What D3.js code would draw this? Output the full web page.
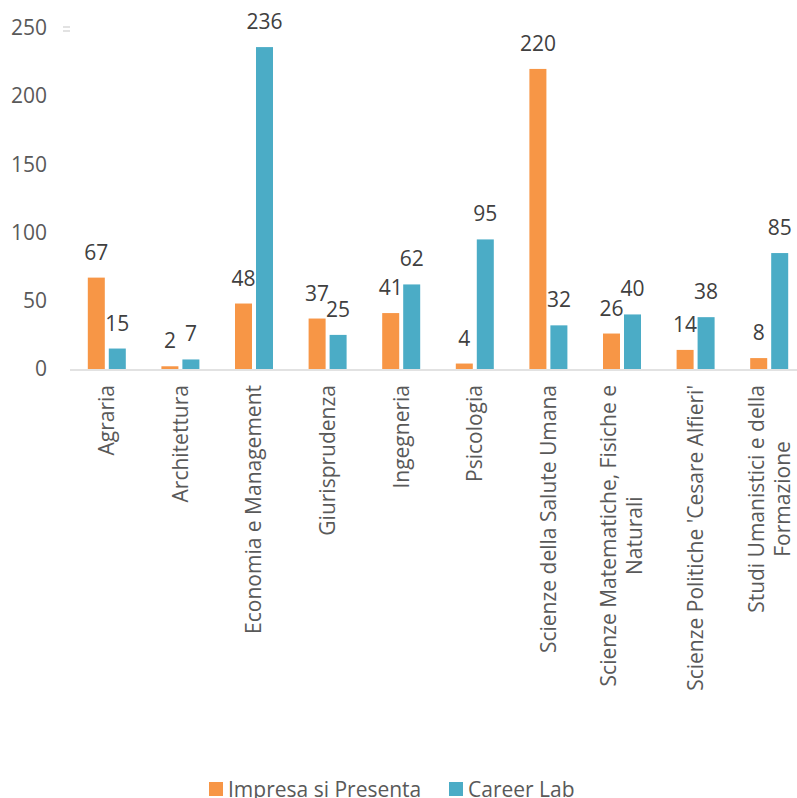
<!DOCTYPE html>
<html>
<head>
<meta charset="utf-8">
<script src="https://cdn.jsdelivr.net/npm/d3@7"></script>
<style>
  body { margin: 0; background: #fff; }
  svg { display: block; font-family: "Open Sans", sans-serif; }
</style>
</head>
<body>
<div id="chart"></div>
<script>
const width = 797;
const height = 798;

const categories = [
  "Agraria",
  "Architettura",
  "Economia e Management",
  "Giurisprudenza",
  "Ingegneria",
  "Psicologia",
  "Scienze della Salute Umana",
  "Scienze Matematiche, Fisiche e|Naturali",
  "Scienze Politiche 'Cesare Alfieri'",
  "Studi Umanistici e della|Formazione"
];
const seriesNames = ["Impresa si Presenta", "Career Lab"];
const impresa = [67, 2, 48, 37, 41, 4, 220, 26, 14, 8];
const careerLab = [15, 7, 236, 25, 62, 95, 32, 40, 38, 85];
const yTicks = [0, 50, 100, 150, 200, 250];

const colors = ["#F79646", "#4BACC6"];

const data = categories.map((c, i) => ({cat: c, values: [impresa[i], careerLab[i]]}));

const x = d3.scaleBand()
  .domain(categories)
  .range([70, 806]);

const x1 = d3.scaleBand()
  .domain([0, 1])
  .range([-19, 19])
  .paddingInner(0.19);

const y = d3.scaleLinear()
  .domain([0, 250])
  .range([369, 28]);

const svg = d3.select("#chart")
  .append("svg")
  .attr("width", width)
  .attr("height", height)
  .attr("viewBox", [0, 0, width, height]);

// y labels (no axis line, no gridlines)
svg.append("g")
  .attr("transform", "translate(47,0)")
  .call(d3.axisLeft(y).tickValues(yTicks).tickSize(0).tickPadding(0))
  .call(g => g.select(".domain").remove())
  .call(g => g.selectAll("text")
    .attr("font-family", "Open Sans, sans-serif")
    .attr("font-size", 21)
    .attr("fill", "#595959"));

// small marker near top
svg.append("g")
  .selectAll("line")
  .data([27, 31])
  .join("line")
  .attr("x1", 63).attr("x2", 70)
  .attr("y1", d => d).attr("y2", d => d)
  .attr("stroke", "#D9D9D9")
  .attr("stroke-width", 1.5);

// bars
const groups = svg.append("g")
  .selectAll("g")
  .data(data)
  .join("g")
  .attr("transform", d => `translate(${x(d.cat) + x.bandwidth() / 2},0)`);

groups.selectAll("rect")
  .data(d => d.values)
  .join("rect")
  .attr("x", (v, i) => x1(i))
  .attr("width", x1.bandwidth())
  .attr("y", v => y(v))
  .attr("height", v => y(0) - y(v))
  .attr("fill", (v, i) => colors[i]);

groups.selectAll("text")
  .data(d => d.values)
  .join("text")
  .attr("x", (v, i) => x1(i) + x1.bandwidth() / 2)
  .attr("y", v => y(v) - 18)
  .attr("text-anchor", "middle")
  .attr("font-size", 21)
  .attr("fill", "#404040")
  .text(v => v);

// x axis line
svg.append("line")
  .attr("x1", 70).attr("x2", width)
  .attr("y1", y(0) + 1).attr("y2", y(0) + 1)
  .attr("stroke", "#D9D9D9")
  .attr("stroke-width", 1.5);

// x labels, rotated
const xl = svg.append("g")
  .selectAll("g")
  .data(categories)
  .join("g")
  .attr("transform", d => `translate(${x(d) + x.bandwidth() / 2},385) rotate(-90)`);

xl.each(function(d) {
  const g = d3.select(this);
  const lines = d.split("|");
  const lh = 26;
  const texts = lines.map((ln, i) => g.append("text")
    .attr("font-size", 21)
    .attr("fill", "#595959")
    .attr("dy", "0.35em")
    .attr("y", (i - (lines.length - 1) / 2) * lh)
    .text(ln));
  const maxLen = d3.max(texts, t => t.node().getComputedTextLength());
  texts.forEach(t => t.attr("x", -maxLen / 2).attr("text-anchor", "middle"));
});

// legend
const legend = svg.append("g")
  .selectAll("g")
  .data(seriesNames)
  .join("g")
  .attr("transform", (d, i) => `translate(${[209, 449][i]},782)`);

legend.append("rect")
  .attr("width", 14)
  .attr("height", 14)
  .attr("fill", (d, i) => colors[i]);

legend.append("text")
  .attr("x", 19)
  .attr("y", 15)
  .attr("font-size", 21)
  .attr("fill", "#595959")
  .text(d => d);
</script>
</body>
</html>
